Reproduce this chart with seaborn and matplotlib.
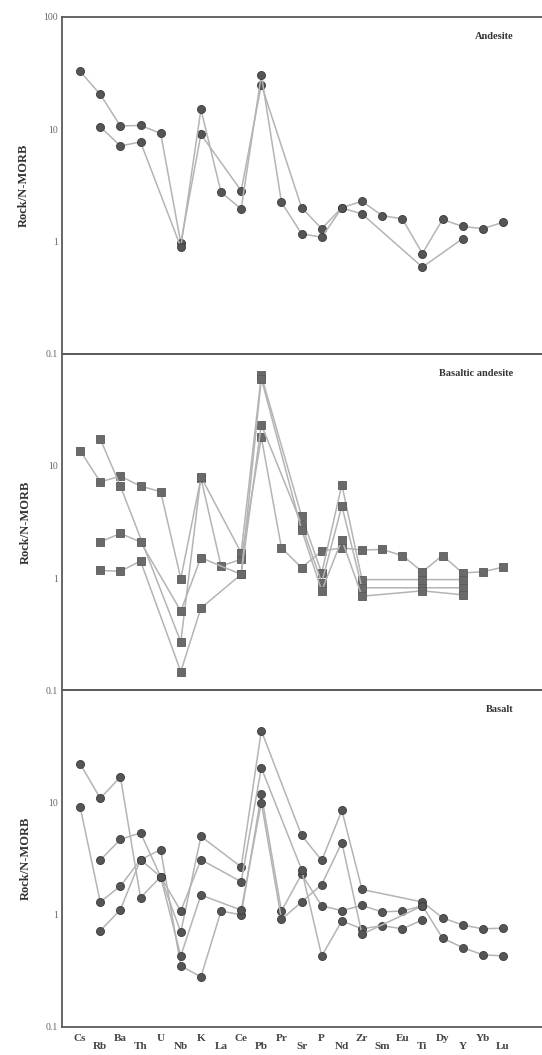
import numpy as np
import pandas as pd
import matplotlib
matplotlib.use("Agg")
import matplotlib.pyplot as plt
import seaborn as sns
from matplotlib.ticker import LogLocator, FixedLocator, FixedFormatter, NullFormatter

nan = np.nan
elements = ["Cs", "Rb", "Ba", "Th", "U", "Nb", "K", "La", "Ce", "Pb", "Pr",
            "Sr", "P", "Nd", "Zr", "Sm", "Eu", "Ti", "Dy", "Y", "Yb", "Lu"]

# Andesite
and_1 = [32.7, 20.4, 10.7, 10.8, 9.2, 0.97, 9.0, nan, 2.83, 25.0, nan,
         2.0, 1.3, 2.0, 2.28, 1.7, 1.59, 0.78, 1.57, 1.36, 1.3, 1.48]
and_2 = [nan, 10.5, 7.1, 7.7, nan, 0.89, 15.0, 2.74, 1.95, 30.5, 2.23,
         1.17, 1.09, 1.99, 1.76, nan, nan, 0.59, nan, 1.06, nan, nan]

# Basaltic andesite
ba_1 = [13.7, 7.2, 8.1, 6.6, 5.9, 0.99, 7.8, 1.28, 1.47, 18.0, 1.86,
        1.24, 1.74, 1.86, 1.78, 1.8, 1.59, 1.14, 1.59, 1.11, 1.14, 1.25]
ba_2 = [nan, 17.4, 6.6, nan, nan, 0.27, 8.0, nan, 1.68, 64.0, nan,
        3.56, 1.11, 6.8, 0.97, nan, nan, 0.97, nan, 0.97, nan, nan]
ba_3 = [nan, 2.1, 2.5, 2.1, nan, 0.51, 1.52, nan, 1.08, 23.3, nan,
        3.0, 0.91, 4.4, 0.82, nan, nan, 0.82, nan, 0.82, nan, nan]
ba_4 = [nan, 1.17, 1.15, 1.42, nan, 0.147, 0.54, nan, 1.08, 60.0, nan,
        2.7, 0.77, 2.2, 0.69, nan, nan, 0.77, nan, 0.71, nan, nan]

# Basalt
bs_1 = [22.2, 10.9, 16.9, 1.42, 2.18, 0.70, 5.0, nan, 2.67, 43.7, nan,
        5.1, 3.05, 8.5, 1.68, nan, nan, 1.3, 0.94, 0.81, 0.75, 0.76]
bs_2 = [9.15, 1.3, 1.8, 3.1, 3.8, 0.35, 0.28, 1.08, 1.0, 11.8, 1.08,
        2.3, 1.2, 1.09, 1.21, 1.06, 1.08, 1.2, 0.62, 0.51, 0.44, 0.43]
bs_3 = [nan, 3.07, 4.7, 5.37, 2.18, 1.08, 3.1, nan, 1.97, 20.4, nan,
        2.53, 0.43, 0.88, 0.75, 0.80, 0.75, 0.9, nan, nan, nan, nan]
bs_4 = [nan, 0.72, 1.11, 3.1, 2.18, 0.43, 1.5, nan, 1.1, 10.0, 0.91,
        1.3, 1.86, 4.4, 0.67, nan, nan, 1.2, nan, nan, nan, nan]

panels = [
    ("Andesite", "o", [and_1, and_2]),
    ("Basaltic andesite", "s", [ba_1, ba_2, ba_3, ba_4]),
    ("Basalt", "o", [bs_1, bs_2, bs_3, bs_4]),
]

sns.set_style("white")
plt.rcParams["font.family"] = ["Liberation Serif", "DejaVu Serif"]

W, H = 542, 1055
fig = plt.figure(figsize=(W / 100, H / 100), dpi=100)
left = 62 / W
top_px = 17
bot_px = 1027
ph = (bot_px - top_px) / 3.0

line_c = "#b4b4b4"
mark_c = "#555555"

for i, (name, mk, series) in enumerate(panels):
    y0 = 1 - (top_px + (i + 1) * ph) / H
    ax = fig.add_axes([left, y0, 1 - left, ph / H])
    rows = []
    for j, s in enumerate(series):
        for k, v in enumerate(s):
            if not np.isnan(v):
                rows.append({"sample": j, "pos": k, "value": v})
    df = pd.DataFrame(rows)
    sns.lineplot(data=df, x="pos", y="value", units="sample", estimator=None,
                 sort=False, color=line_c, lw=1.1, marker=mk,
                 markersize=5.8 if mk == "o" else 5.5,
                 mfc=mark_c if mk == "o" else "#6a6a6a",
                 mec="#3a3a3a" if mk == "o" else "#5a5a5a",
                 mew=0.6, ax=ax, legend=False)
    ax.set_yscale("log")
    ax.set_ylim(0.1, 100)
    ax.set_xlim(-0.9, 22.94)
    ax.set_xlabel("")
    ax.set_ylabel("Rock/N-MORB", fontsize=9, fontweight="bold", color="#333333", labelpad=10)
    ax.yaxis.set_major_locator(FixedLocator([0.1, 1, 10, 100]))
    labs = ["0.1", "1", "10", "100"] if i == 0 else ["0.1", "1", "10", ""]
    ax.yaxis.set_major_formatter(FixedFormatter(labs))
    ax.yaxis.set_minor_locator(LogLocator(base=10, subs=np.arange(2, 10)))
    ax.yaxis.set_minor_formatter(NullFormatter())
    ax.tick_params(axis="y", which="major", direction="in", length=8, width=1, colors="#555555",
                   labelsize=7, labelcolor="#666666", pad=3)
    ax.tick_params(axis="y", which="minor", direction="in", length=5, width=0.8, colors="#666666")
    ax.set_xticks(range(len(elements)))
    if i == 2:
        ax.set_xticklabels([e if k % 2 == 0 else "\n" + e for k, e in enumerate(elements)],
                           fontsize=8, fontweight="bold", color="#444444", linespacing=0.85)
    else:
        ax.set_xticklabels([])
    ax.tick_params(axis="x", direction="in", length=4, width=0.9, colors="#555555", pad=5,
                   labelcolor="#444444")
    ax.tick_params(axis="x", which="minor", bottom=False)
    for sp in ["left", "bottom", "top"]:
        ax.spines[sp].set_color("#5a5a5a")
        ax.spines[sp].set_linewidth(1.3)
    ax.spines["right"].set_visible(False)
    ax.text(0.94, 0.955, name, transform=ax.transAxes, ha="right", va="top",
            fontsize=7.5, fontweight="bold", color="#333333")
    ax.patch.set_alpha(0)

fig.savefig("out.png", dpi=100)
